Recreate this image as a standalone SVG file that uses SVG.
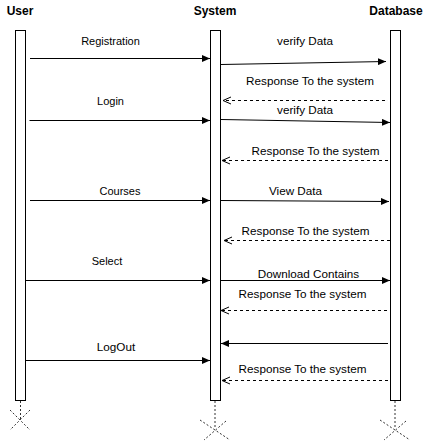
<svg xmlns="http://www.w3.org/2000/svg" width="431" height="442" viewBox="0 0 431 442">
<defs>
<style>
.title{font-family:"Liberation Sans",Arial,sans-serif;font-size:12px;font-weight:bold;fill:#000;text-anchor:middle}
.lbl{font-family:"Liberation Sans",Arial,sans-serif;font-size:11px;fill:#000;text-anchor:middle}
.lblr{font-family:"Liberation Sans",Arial,sans-serif;font-size:11.7px;fill:#000;text-anchor:middle}
.bar{fill:#fff;stroke:#000;stroke-width:1}
.msg{fill:none;stroke:#000;stroke-width:1;marker-end:url(#filled)}
.ret{fill:none;stroke:#000;stroke-width:1;stroke-dasharray:3 3;marker-end:url(#open)}
.dx{fill:none;stroke:#333;stroke-width:1;stroke-dasharray:2 2}
</style>
<marker id="filled" viewBox="0 0 8 7" refX="8" refY="3.5" markerWidth="8" markerHeight="7" markerUnits="userSpaceOnUse" orient="auto">
<path d="M0,0 L8,3.5 L0,7 Z" fill="#000" stroke="none"/>
</marker>
<marker id="open" viewBox="-1 -1 10 9" refX="8" refY="3.5" markerWidth="10" markerHeight="9" markerUnits="userSpaceOnUse" orient="auto">
<path d="M0,0 L8,3.5 L0,7" fill="none" stroke="#000" stroke-width="1" stroke-dasharray="none"/>
</marker>
</defs>
<rect width="431" height="442" fill="#fff"/>

<g id="user">
<text class="title" x="20" y="15">User</text>
<rect class="bar" x="15.5" y="30.5" width="10" height="370"/>
<line class="dx" x1="20.5" y1="401" x2="20.5" y2="420"/>
<line class="dx" x1="10" y1="410" x2="30" y2="430"/>
<line class="dx" x1="30" y1="410" x2="10" y2="430"/>
</g>

<g id="system">
<text class="title" x="215" y="15">System</text>
<rect class="bar" x="210.5" y="30.5" width="10" height="370"/>
<line class="dx" x1="215" y1="401" x2="215" y2="428"/>
<line class="dx" x1="200" y1="420" x2="230" y2="440"/>
<line class="dx" x1="226" y1="421" x2="204" y2="440"/>
</g>

<g id="database">
<text class="title" x="396" y="15">Database</text>
<rect class="bar" x="390.5" y="30.5" width="10" height="370"/>
<line class="dx" x1="395" y1="401" x2="395" y2="428"/>
<line class="dx" x1="380" y1="420" x2="410" y2="440"/>
<line class="dx" x1="406" y1="421" x2="384" y2="440"/>
</g>

<g id="connectors">
<line class="msg" x1="30" y1="58.5" x2="210" y2="58.5"/>
<text class="lbl" x="110.5" y="45">Registration</text>

<line class="msg" x1="221" y1="64.5" x2="386" y2="61.5"/>
<text class="lblr" x="305" y="45">verify Data</text>

<line class="ret" x1="385" y1="100.5" x2="223" y2="100.5"/>
<text class="lblr" x="310" y="84.5">Response To the system</text>

<line class="msg" x1="29.5" y1="120.5" x2="210" y2="120.5"/>
<text class="lbl" x="110.5" y="104.5">Login</text>

<line class="msg" x1="221" y1="119.5" x2="390" y2="122.5"/>
<text class="lblr" x="305" y="114">verify Data</text>

<line class="ret" x1="388" y1="160.5" x2="222" y2="160.5"/>
<text class="lblr" x="315.5" y="155">Response To the system</text>

<line class="msg" x1="30" y1="200.5" x2="210" y2="200.5"/>
<text class="lbl" x="120" y="195">Courses</text>

<line class="msg" x1="221" y1="200.5" x2="389" y2="201.5"/>
<text class="lblr" x="295.5" y="195">View Data</text>

<line class="ret" x1="390" y1="240.5" x2="224" y2="240.5"/>
<text class="lblr" x="305.5" y="235">Response To the system</text>

<line class="msg" x1="25.5" y1="280.5" x2="210" y2="280.5"/>
<text class="lbl" x="107" y="265">Select</text>

<line class="msg" x1="221" y1="280.5" x2="390" y2="280.5"/>
<text class="lblr" x="308.5" y="278">Download Contains</text>

<line class="ret" x1="387" y1="310.5" x2="221" y2="310.5"/>
<text class="lblr" x="302.5" y="297.5">Response To the system</text>

<line class="msg" x1="388" y1="343.5" x2="221" y2="343.5"/>

<line class="msg" x1="25.5" y1="360.5" x2="210" y2="360.5"/>
<text class="lblr" x="116" y="350.5">LogOut</text>

<line class="ret" x1="388" y1="380.5" x2="222" y2="380.5"/>
<text class="lblr" x="302.5" y="373">Response To the system</text>
</g>
</svg>
